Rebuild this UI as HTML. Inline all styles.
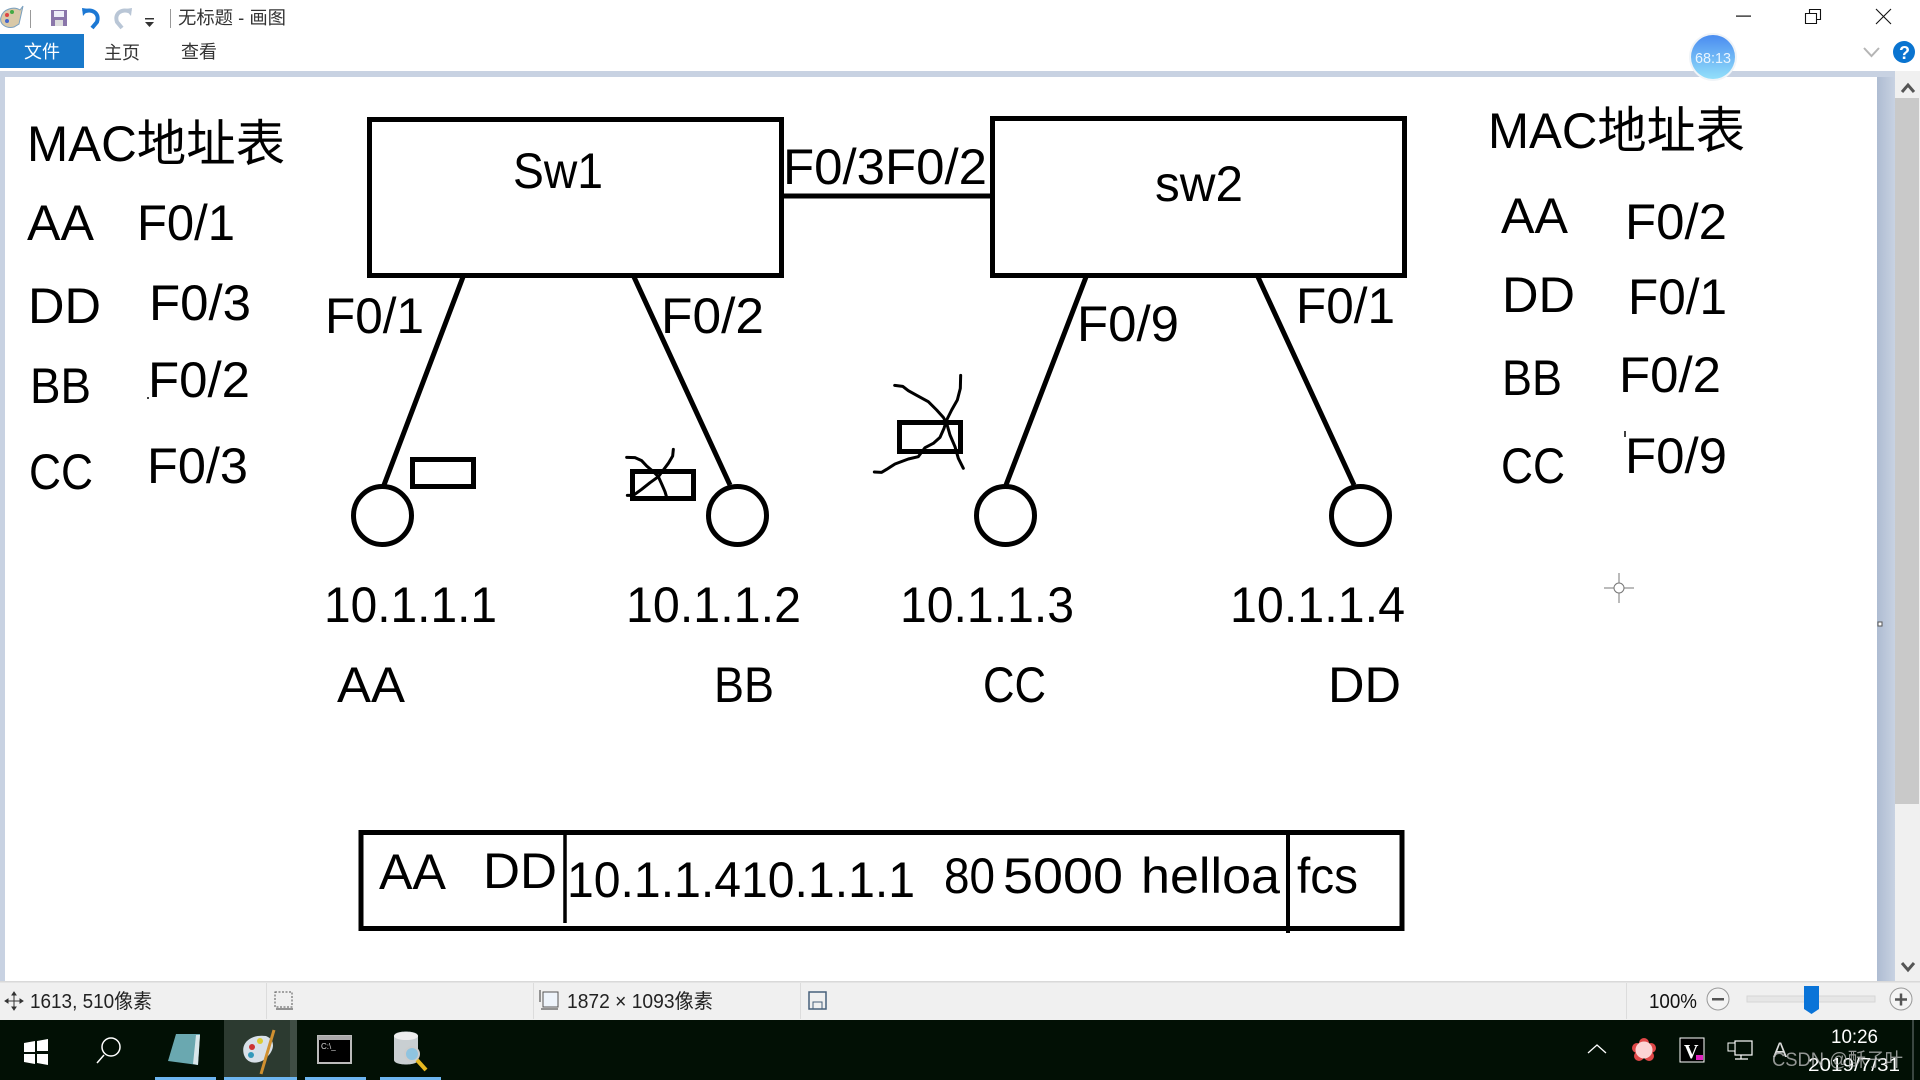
<!DOCTYPE html>
<html lang="zh"><head><meta charset="utf-8"><title>无标题 - 画图</title>
<style>
html,body{margin:0;padding:0;background:#fff;width:1920px;height:1080px;overflow:hidden}
svg{display:block}
text{font-family:"Liberation Sans","Noto Sans CJK SC",sans-serif;fill:#000}
.d{font-size:50px}
.u{font-size:18px;fill:#333}
.s{font-size:20px;fill:#222}
.w{fill:#fff}
</style></head><body>
<svg xmlns="http://www.w3.org/2000/svg" width="1920" height="1080" viewBox="0 0 1920 1080">
<defs>
<linearGradient id="bd" x1="0" x2="1" y1="0" y2="0"><stop offset="0" stop-color="#aebcd2"/><stop offset="1" stop-color="#c8d2e2"/></linearGradient>
<linearGradient id="badge" x1="0" x2="0" y1="0" y2="1"><stop offset="0" stop-color="#4a8cf0"/><stop offset="1" stop-color="#93e0fa"/></linearGradient>
</defs>
<!-- chrome -->
<rect width="1920" height="71" fill="#fff"/>
<rect y="71" width="1920" height="910" fill="#c8d2e2"/>
<rect x="5" y="77" width="1872" height="904" fill="#fff"/>
<rect x="1877" y="77" width="18" height="904" fill="url(#bd)"/>
<rect x="1895" y="71" width="25" height="910" fill="#f0f0f0"/>
<rect x="1895" y="98" width="24" height="706" fill="#c9c9c9"/>
<path d="M1902 92l6-7 6 7" fill="none" stroke="#555" stroke-width="3"/>
<path d="M1902 963l6 7 6-7" fill="none" stroke="#555" stroke-width="3"/>
<!-- title bar -->
<g>
<path d="M1 17C3 9 14 6 20 10L23 6 19 24 14 27C6 29-1 24 1 17Z" fill="#d9c9a8" stroke="#7aa0c0"/>
<circle cx="7" cy="15" r="2" fill="#d44"/><circle cx="12" cy="12" r="2" fill="#4a4"/><circle cx="7" cy="21" r="2" fill="#46c"/>
<rect x="30" y="10" width="1" height="18" fill="#999"/>
<rect x="51" y="10" width="16" height="16" fill="#8a76aa"/><rect x="54" y="11" width="10" height="6" fill="#eeeef8"/><rect x="55" y="20" width="8" height="6" fill="#ddd"/>
<path d="M83 12C92 8 100 13 97 22L92 28" fill="none" stroke="#1c78d4" stroke-width="4"/><path d="M82 8l7 1-6 7z" fill="#1c78d4"/>
<path d="M131 12C122 8 114 13 117 22L122 28" fill="none" stroke="#b9c6d6" stroke-width="4"/><path d="M132 8l-7 1 6 7z" fill="#b9c6d6"/>
<rect x="145" y="18" width="9" height="1.500" fill="#333"/><path d="M145 22h9l-4.500 5z" fill="#333"/>
<rect x="170" y="9" width="1" height="19" fill="#999"/>
<text class="u" x="178" y="24" textLength="108" lengthAdjust="spacingAndGlyphs">无标题 - 画图</text>
</g>
<rect y="34" width="84" height="34" fill="#1979ca"/>
<text class="u w" x="24" y="58" textLength="36" lengthAdjust="spacingAndGlyphs">文件</text>
<text class="u" x="104" y="59" textLength="36" lengthAdjust="spacingAndGlyphs">主页</text>
<text class="u" x="181" y="58" textLength="36" lengthAdjust="spacingAndGlyphs">查看</text>
<rect x="1736" y="15.500" width="15" height="1.200" fill="#111"/>
<path d="M1805.500 13.500h11v10h-11zM1809.500 13.500v-4h11v10h-4" fill="none" stroke="#111" stroke-width="1.100"/>
<path d="M1876 9l15 15M1891 9l-15 15" stroke="#111" stroke-width="1.100"/>
<path d="M1864 48l7.500 8 7.500-8" fill="none" stroke="#b5b5b5" stroke-width="2"/>
<circle cx="1904" cy="52" r="11" fill="#0a74d0"/>
<text x="1899" y="59" style="font-size:18px;font-weight:bold;fill:#fff">?</text>
<circle cx="1713" cy="57" r="24" fill="#f0f4f8"/>
<circle cx="1713" cy="57" r="22" fill="url(#badge)"/>
<text x="1695" y="63" style="font-size:15px;fill:#e8f4ff" textLength="36" lengthAdjust="spacingAndGlyphs">68:13</text>
<!-- diagram: boxes -->
<g fill="none" stroke="#000" stroke-width="5">
<rect x="369.500" y="119.500" width="412" height="156"/>
<rect x="992.500" y="118.500" width="412" height="157"/>
<path d="M782 196H992"/>
<path d="M463 277L384 485M634 277L730 485M1086 277L1006 485M1258 277L1354 485"/>
<circle cx="382.500" cy="515.500" r="29"/><circle cx="737.500" cy="515.500" r="29"/>
<circle cx="1005.500" cy="515.500" r="29"/><circle cx="1360.500" cy="515.500" r="29"/>
<rect x="412.500" y="459.500" width="61" height="27"/>
<rect x="632.500" y="471.500" width="61" height="27"/>
<rect x="899.500" y="422.500" width="61" height="29"/>
<rect x="361" y="832.500" width="1041" height="96"/>
</g>
<path d="M565 832V923" stroke="#000" stroke-width="3.500"/>
<path d="M1288 832V933" stroke="#000" stroke-width="4"/>
<g transform="translate(600 360) scale(.33333)" fill="none" stroke="#000" stroke-width="9" stroke-linecap="round" stroke-linejoin="round">
<polyline points="80,292 105,293 125,302 140,318 160,335 175,350 185,372 195,395 200,412"/>
<polyline points="220,268 218,288 205,310 190,330 175,350 150,368 125,388 100,406 82,406"/>
<polyline points="884,76 908,79 925,92 950,106 985,125 1010,150 1030,172 1040,190 1050,225 1065,260 1075,295 1090,325"/>
<polyline points="1082,46 1081,85 1072,120 1055,150 1040,180 1032,205 1020,232 1000,250 975,263 955,290 925,297 885,312 860,328 845,337 823,336"/>
</g>
<path d="M1625 431v6M148 397v2" stroke="#000" stroke-width="1.500"/>
<!-- labels left -->
<text class="d" x="27" y="161" textLength="258" lengthAdjust="spacingAndGlyphs">MAC地址表</text>
<text class="d" x="27" y="240" textLength="67" lengthAdjust="spacingAndGlyphs">AA</text>
<text class="d" x="137" y="240" textLength="98" lengthAdjust="spacingAndGlyphs">F0/1</text>
<text class="d" x="28" y="323" textLength="73" lengthAdjust="spacingAndGlyphs">DD</text>
<text class="d" x="149" y="320" textLength="102" lengthAdjust="spacingAndGlyphs">F0/3</text>
<text class="d" x="30" y="403" textLength="61" lengthAdjust="spacingAndGlyphs">BB</text>
<text class="d" x="148" y="397" textLength="102" lengthAdjust="spacingAndGlyphs">F0/2</text>
<text class="d" x="29" y="489" textLength="64" lengthAdjust="spacingAndGlyphs">CC</text>
<text class="d" x="147" y="483" textLength="101" lengthAdjust="spacingAndGlyphs">F0/3</text>
<!-- switch labels -->
<text class="d" x="513" y="188" textLength="90" lengthAdjust="spacingAndGlyphs">Sw1</text>
<text class="d" x="1155" y="201" textLength="88" lengthAdjust="spacingAndGlyphs">sw2</text>
<text class="d" x="783" y="184" textLength="204" lengthAdjust="spacingAndGlyphs">F0/3F0/2</text>
<text class="d" x="325" y="333" textLength="99" lengthAdjust="spacingAndGlyphs">F0/1</text>
<text class="d" x="661" y="333" textLength="103" lengthAdjust="spacingAndGlyphs">F0/2</text>
<text class="d" x="1077" y="341" textLength="102" lengthAdjust="spacingAndGlyphs">F0/9</text>
<text class="d" x="1296" y="323" textLength="99" lengthAdjust="spacingAndGlyphs">F0/1</text>
<!-- hosts -->
<text class="d" x="324" y="622" textLength="173" lengthAdjust="spacingAndGlyphs">10.1.1.1</text>
<text class="d" x="626" y="622" textLength="175" lengthAdjust="spacingAndGlyphs">10.1.1.2</text>
<text class="d" x="900" y="622" textLength="174" lengthAdjust="spacingAndGlyphs">10.1.1.3</text>
<text class="d" x="1230" y="622" textLength="175" lengthAdjust="spacingAndGlyphs">10.1.1.4</text>
<text class="d" x="337" y="702" textLength="68" lengthAdjust="spacingAndGlyphs">AA</text>
<text class="d" x="714" y="702" textLength="60" lengthAdjust="spacingAndGlyphs">BB</text>
<text class="d" x="983" y="702" textLength="63" lengthAdjust="spacingAndGlyphs">CC</text>
<text class="d" x="1328" y="702" textLength="73" lengthAdjust="spacingAndGlyphs">DD</text>
<!-- right table -->
<text class="d" x="1488" y="148" textLength="257" lengthAdjust="spacingAndGlyphs">MAC地址表</text>
<text class="d" x="1501" y="233" textLength="67" lengthAdjust="spacingAndGlyphs">AA</text>
<text class="d" x="1625" y="239" textLength="102" lengthAdjust="spacingAndGlyphs">F0/2</text>
<text class="d" x="1502" y="312" textLength="73" lengthAdjust="spacingAndGlyphs">DD</text>
<text class="d" x="1628" y="314" textLength="99" lengthAdjust="spacingAndGlyphs">F0/1</text>
<text class="d" x="1502" y="395" textLength="60" lengthAdjust="spacingAndGlyphs">BB</text>
<text class="d" x="1619" y="392" textLength="102" lengthAdjust="spacingAndGlyphs">F0/2</text>
<text class="d" x="1501" y="483" textLength="64" lengthAdjust="spacingAndGlyphs">CC</text>
<text class="d" x="1625" y="473" textLength="102" lengthAdjust="spacingAndGlyphs">F0/9</text>
<!-- frame labels -->
<text class="d" x="379" y="889" textLength="67" lengthAdjust="spacingAndGlyphs">AA</text>
<text class="d" x="483" y="888" textLength="74" lengthAdjust="spacingAndGlyphs">DD</text>
<text class="d" x="567" y="897" textLength="348" lengthAdjust="spacingAndGlyphs">10.1.1.410.1.1.1</text>
<text class="d" x="944" y="893" textLength="51" lengthAdjust="spacingAndGlyphs">80</text>
<text class="d" x="1003" y="893" textLength="120" lengthAdjust="spacingAndGlyphs">5000</text>
<text class="d" x="1141" y="893" textLength="139" lengthAdjust="spacingAndGlyphs">helloa</text>
<text class="d" x="1297" y="893" textLength="61" lengthAdjust="spacingAndGlyphs">fcs</text>
<!-- crosshair & handle -->
<path d="M1619 573v30M1604 588h30" stroke="#777" stroke-width="1"/>
<circle cx="1619" cy="588" r="5" fill="#fff" stroke="#777"/>
<rect x="1878" y="622" width="4" height="4" fill="#fff" stroke="#555"/>
<!-- status bar -->
<rect y="981" width="1920" height="39" fill="#f0f0f0"/>
<rect y="981" width="1920" height="1.500" fill="#d9d9d9"/>
<g fill="#dcdcdc"><rect x="266" y="983" width="1" height="36"/><rect x="533" y="983" width="1" height="36"/><rect x="800" y="983" width="1" height="36"/><rect x="1626" y="983" width="1" height="36"/></g>
<path d="M5 1001h18M14 992v18M5 1001l3-2v4zM23 1001l-3-2v4zM14 992l-2 3h4zM14 1010l-2-3h4z" stroke="#333" fill="#333"/>
<text class="s" x="30" y="1008" textLength="122" lengthAdjust="spacingAndGlyphs">1613, 510像素</text>
<rect x="275" y="992" width="17" height="15" fill="none" stroke="#555" stroke-dasharray="2 1.500"/>
<path d="M276 1009h17" stroke="#333"/>
<rect x="543" y="992" width="15" height="15" fill="#eef4fb" stroke="#555"/>
<path d="M540 990v12M541 1009h17" stroke="#333"/>
<text class="s" x="567" y="1008" textLength="146" lengthAdjust="spacingAndGlyphs">1872 × 1093像素</text>
<rect x="809" y="992" width="17" height="17" fill="none" stroke="#47607a" stroke-width="1.500"/>
<rect x="813" y="1002" width="9" height="7" fill="none" stroke="#47607a"/>
<text x="1649" y="1008" style="font-size:20px;fill:#111" textLength="48" lengthAdjust="spacingAndGlyphs">100%</text>
<circle cx="1718" cy="999" r="11" fill="#f4f4f4" stroke="#999"/>
<rect x="1712" y="998" width="12" height="2.500" fill="#555"/>
<rect x="1747" y="996" width="128" height="6" fill="#e6e6e6" stroke="#d6d6d6"/>
<path d="M1804 986h15v23l-7.500 5-7.500-5z" fill="#0a74d8"/>
<circle cx="1901" cy="999" r="11" fill="#f4f4f4" stroke="#999"/>
<path d="M1895 999.500h12M1901 993.500v12" stroke="#555" stroke-width="2.500"/>
<!-- taskbar -->
<rect y="1020" width="1920" height="60" fill="#021005"/>
<rect x="224" y="1020" width="73" height="60" fill="#2c3a30"/>
<rect x="290" y="1020" width="7" height="60" fill="#3f4d44"/>
<g fill="#6db5f0"><rect x="155" y="1077" width="61" height="3"/><rect x="224" y="1077" width="73" height="3"/><rect x="305" y="1077" width="61" height="3"/><rect x="380" y="1077" width="61" height="3"/></g>
<path d="M24 1043l11-2v11H24zM37 1041l11-2v12H37zM24 1054h11v10l-11-2zM37 1054h11v11l-11-2z" fill="#fff"/>
<circle cx="111" cy="1047" r="9" fill="none" stroke="#fff" stroke-width="1.500"/>
<path d="M104 1055l-7 8" stroke="#fff" stroke-width="1.500"/>
<path d="M176 1034h24l-2 31-30-4z" fill="#6aa8b0"/><path d="M196 1035l4 0-2 30-5-1z" fill="#d8e6ea"/>
<path d="M244 1055C240 1042 252 1034 266 1036C276 1040 274 1050 268 1056C262 1064 248 1066 244 1055Z" fill="#d8e0e8"/>
<circle cx="252" cy="1047" r="3" fill="#c33"/><circle cx="260" cy="1041" r="3" fill="#dc3"/><circle cx="251" cy="1055" r="3" fill="#39b"/>
<path d="M274 1030l-13 44" stroke="#d09030" stroke-width="3"/>
<rect x="318" y="1036" width="33" height="27" fill="#000" stroke="#bbb" stroke-width="2"/>
<rect x="318" y="1036" width="33" height="4" fill="#aaa"/>
<text x="321" y="1049" style="font-size:8px;fill:#ddd">C:\_</text>
<path d="M394 1036c0-6 24-6 24 0v24c0 6-24 6-24 0z" fill="#c9cfd2"/>
<ellipse cx="406" cy="1036" rx="12" ry="4" fill="#eee"/>
<circle cx="412" cy="1054" r="7" fill="#8fc4e0" stroke="#ccc" stroke-width="2"/>
<path d="M417 1060l9 10" stroke="#e6b820" stroke-width="4"/>
<path d="M1588 1053l9-8 9 8" fill="none" stroke="#fff" stroke-width="1.300"/>
<g fill="#e04848"><circle cx="1644" cy="1043" r="5"/><circle cx="1651" cy="1048" r="5"/><circle cx="1649" cy="1056" r="5"/><circle cx="1639" cy="1056" r="5"/><circle cx="1637" cy="1048" r="5"/></g>
<circle cx="1644" cy="1050" r="8.500" fill="#fcd4d4"/>
<rect x="1680" y="1038" width="24" height="24" fill="#000" stroke="#fff"/>
<text x="1684" y="1058" style="font-size:20px;font-weight:bold;fill:#fff;font-family:'Liberation Serif',serif">V</text>
<rect x="1696" y="1055" width="7" height="5" fill="#e020c0"/>
<rect x="1735" y="1041" width="17" height="14" fill="none" stroke="#fff" stroke-width="1.200"/>
<rect x="1728" y="1043" width="7" height="8" fill="#021005" stroke="#fff"/>
<path d="M1741 1055v4M1735 1059h13" stroke="#fff" stroke-width="1.200"/>
<text x="1773" y="1057" style="font-size:21px;fill:#ddd">A</text>
<text x="1831" y="1043" style="font-size:19px;fill:#fff" textLength="47" lengthAdjust="spacingAndGlyphs">10:26</text>
<text x="1808" y="1071" style="font-size:18px;fill:#fff" textLength="92" lengthAdjust="spacingAndGlyphs">2019/7/31</text>
<text x="1772" y="1066" style="font-size:19px;fill:#b8b8b8;opacity:.8" textLength="131" lengthAdjust="spacingAndGlyphs">CSDN @酥子叶</text>
<rect x="1912" y="1020" width="2" height="60" fill="#3a4640"/>
</svg>
</body></html>
